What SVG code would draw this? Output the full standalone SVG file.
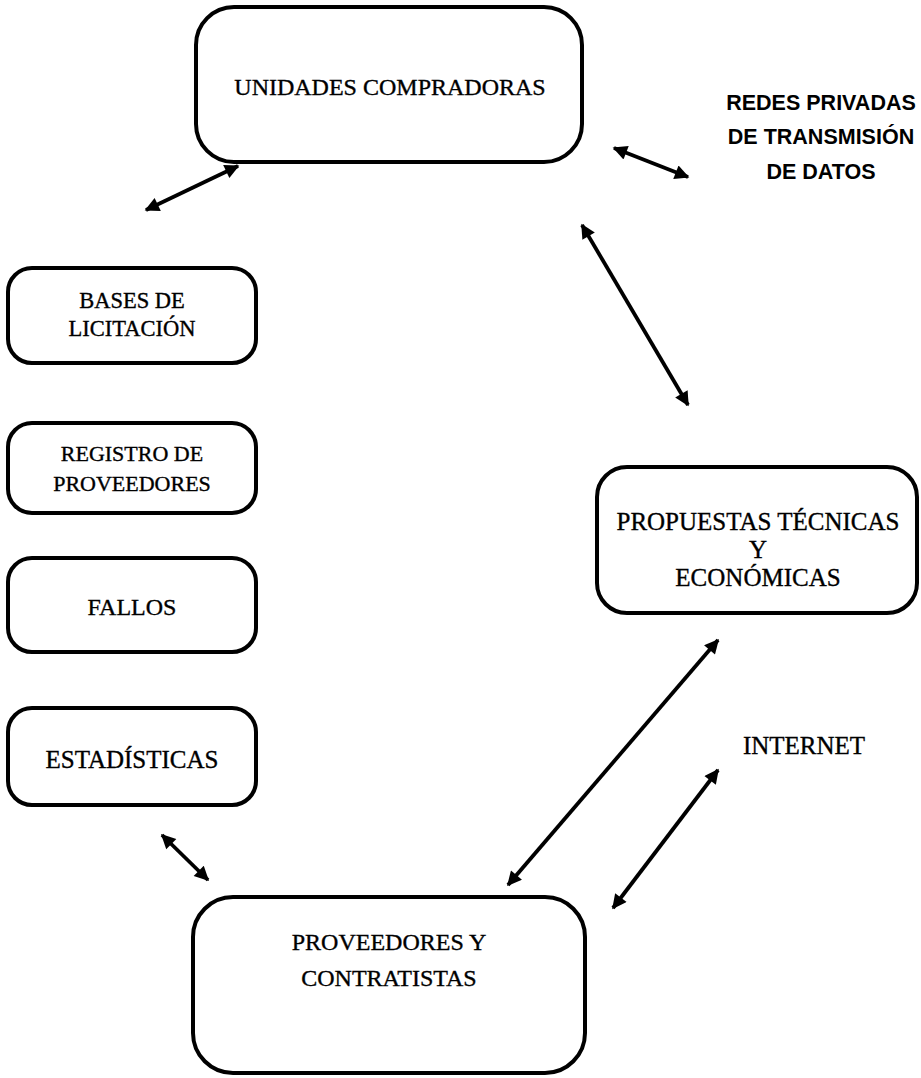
<svg xmlns="http://www.w3.org/2000/svg" width="921" height="1078" viewBox="0 0 921 1078">
  <style>
    .box { fill: #ffffff; stroke: #000000; stroke-width: 4; }
    .lbl { font-family: "Liberation Serif", "Times New Roman", serif; fill: #000000; stroke: #000000; stroke-width: 0.35; text-anchor: middle; }
    .net { font-family: "Liberation Sans", Arial, sans-serif; font-weight: bold; fill: #000000; text-anchor: middle; }
    .link { stroke: #000000; stroke-width: 3.8; fill: none; marker-start: url(#head); marker-end: url(#head); }
  </style>
  <defs>
    <marker id="head" viewBox="0 0 10 10" refX="9" refY="5" markerWidth="4.4" markerHeight="3.8" orient="auto-start-reverse" markerUnits="strokeWidth">
      <path d="M0,0 L10,5 L0,10 Z" fill="#000000"/>
    </marker>
  </defs>

  <rect width="921" height="1078" fill="#ffffff"/>

  <!-- central purchasing units -->
  <g id="unidades">
    <rect class="box" x="196" y="7" width="386" height="155" rx="38" ry="38"/>
    <text class="lbl" x="390" y="95" font-size="24">UNIDADES COMPRADORAS</text>
  </g>

  <!-- left column of services -->
  <g id="bases">
    <rect class="box" x="8" y="268" width="248" height="95" rx="24" ry="24"/>
    <text class="lbl" x="132" y="308" font-size="22.5">BASES DE</text>
    <text class="lbl" x="132" y="336" font-size="22.5">LICITACIÓN</text>
  </g>
  <g id="registro">
    <rect class="box" x="8" y="423" width="248" height="90" rx="24" ry="24"/>
    <text class="lbl" x="132" y="461" font-size="22">REGISTRO DE</text>
    <text class="lbl" x="132" y="491" font-size="22">PROVEEDORES</text>
  </g>
  <g id="fallos">
    <rect class="box" x="8" y="558" width="248" height="94" rx="24" ry="24"/>
    <text class="lbl" x="132" y="615" font-size="24">FALLOS</text>
  </g>
  <g id="estadisticas">
    <rect class="box" x="8" y="708" width="248" height="97" rx="24" ry="24"/>
    <text class="lbl" x="132" y="768" font-size="25">ESTADÍSTICAS</text>
  </g>

  <!-- bids -->
  <g id="propuestas">
    <rect class="box" x="597" y="467" width="320" height="146" rx="30" ry="30"/>
    <text class="lbl" x="758" y="530" font-size="25">PROPUESTAS TÉCNICAS</text>
    <text class="lbl" x="758" y="558" font-size="25">Y</text>
    <text class="lbl" x="758" y="586" font-size="25">ECONÓMICAS</text>
  </g>

  <!-- suppliers -->
  <g id="proveedores">
    <rect class="box" x="193" y="897" width="392" height="176" rx="40" ry="40"/>
    <text class="lbl" x="389" y="950" font-size="24">PROVEEDORES Y</text>
    <text class="lbl" x="389" y="986" font-size="24">CONTRATISTAS</text>
  </g>

  <!-- network labels -->
  <g id="redes">
    <text class="net" x="821" y="110" font-size="21.5">REDES PRIVADAS</text>
    <text class="net" x="821" y="144" font-size="21.5">DE TRANSMISIÓN</text>
    <text class="net" x="821" y="179" font-size="21.5">DE DATOS</text>
  </g>
  <g id="internet">
    <text class="lbl" x="804" y="754" font-size="25">INTERNET</text>
  </g>

  <!-- two-way connectors -->
  <g id="connectors">
    <line class="link" x1="146" y1="210" x2="238" y2="166"/>
    <line class="link" x1="614" y1="148" x2="688" y2="177"/>
    <line class="link" x1="582" y1="225" x2="688" y2="405"/>
    <line class="link" x1="508" y1="885" x2="718" y2="640"/>
    <line class="link" x1="613" y1="908" x2="718" y2="770"/>
    <line class="link" x1="162" y1="835" x2="208" y2="880"/>
  </g>
</svg>
